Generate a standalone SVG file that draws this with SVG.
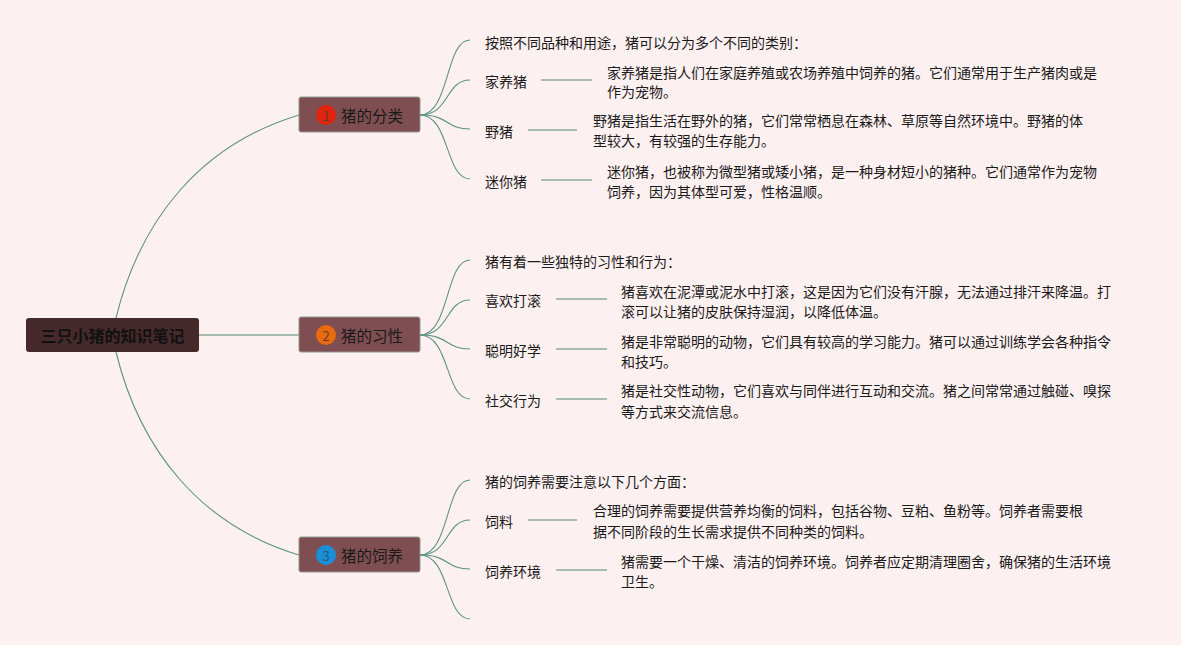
<svg xmlns="http://www.w3.org/2000/svg" width="1181" height="645" viewBox="0 0 1181 645">
<style>
  text { font-family: "Noto Sans CJK SC", "Liberation Sans", sans-serif; fill: #1a1a1a; dominant-baseline: central; }
  .t { font-size: 14px; }
  .root-t { font-size: 16px; font-weight: bold; fill: #111; }
  .br-t { font-size: 15.5px; }
  .num { font-size: 13px; fill: #6a3a30; text-anchor: middle; }
  .curve { fill: none; stroke: #5e9482; stroke-width: 1.1; }
  .link { fill: none; stroke: #a9bcb2; stroke-width: 2; }
  .br { fill: #7f4e52; stroke: #8d9a92; stroke-width: 1; }
</style>
<rect width="1181" height="645" fill="#fdf0f0"/>

<g id="connectors">
  <path class="curve" d="M116,318 C140,220 200,145 299,115"/>
  <path class="link" d="M199,335 L299,335" stroke="#9fb8aa"/>
  <path class="curve" d="M116,352 C140,450 200,525 299,555"/>
  <path class="curve" d="M420,115 C450,115 445,40 470,40"/>
  <path class="curve" d="M420,115 C450,115 445,80 470,80"/>
  <path class="curve" d="M420,115 C450,115 445,129 470,129"/>
  <path class="curve" d="M420,115 C450,115 445,179 470,179"/>
  <path class="curve" d="M420,335 C450,335 445,260 470,260"/>
  <path class="curve" d="M420,335 C450,335 445,300 470,300"/>
  <path class="curve" d="M420,335 C450,335 445,349 470,349"/>
  <path class="curve" d="M420,335 C450,335 445,399 470,399"/>
  <path class="curve" d="M420,555 C450,555 445,480 470,480"/>
  <path class="curve" d="M420,555 C450,555 445,520 470,520"/>
  <path class="curve" d="M420,555 C450,555 445,569 470,569"/>
  <path class="curve" d="M420,555 C450,555 445,619 470,619"/>
  <path class="link" d="M541,80 L592,80"/>
  <path class="link" d="M528,130 L577,130"/>
  <path class="link" d="M541,180 L592,180"/>
  <path class="link" d="M556,299 L607,299"/>
  <path class="link" d="M556,349 L607,349"/>
  <path class="link" d="M556,399 L607,399"/>
  <path class="link" d="M528,520 L577,520"/>
  <path class="link" d="M556,570 L607,570"/>
</g>

<g id="root">
  <rect x="26" y="318" width="173" height="34" rx="3" fill="#45292b"/>
  <text class="root-t" x="112.5" y="335" text-anchor="middle">三只小猪的知识笔记</text>
</g>

<g id="branch1">
  <rect class="br" x="299" y="97" width="121" height="35" rx="2"/>
  <circle cx="326" cy="115" r="10" fill="#e0240e"/>
  <text class="num" x="326" y="115">1</text>
  <text class="br-t" x="341" y="115">猪的分类</text>
</g>
<g id="branch2">
  <rect class="br" x="299" y="317" width="121" height="35" rx="2"/>
  <circle cx="326" cy="335" r="10" fill="#ea6a10"/>
  <text class="num" x="326" y="335">2</text>
  <text class="br-t" x="341" y="335">猪的习性</text>
</g>
<g id="branch3">
  <rect class="br" x="299" y="537" width="121" height="35" rx="2"/>
  <circle cx="326" cy="555" r="10" fill="#1b8fd6"/>
  <text class="num" x="326" y="555" style="fill:#245a7a">3</text>
  <text class="br-t" x="341" y="555">猪的饲养</text>
</g>

<g id="sec1">
  <text class="t" x="485" y="42">按照不同品种和用途，猪可以分为多个不同的类别：</text>
  <text class="t" x="485" y="81">家养猪</text>
  <text class="t" x="607" y="72">家养猪是指人们在家庭养殖或农场养殖中饲养的猪。它们通常用于生产猪肉或是</text>
  <text class="t" x="607" y="91">作为宠物。</text>
  <text class="t" x="485" y="131">野猪</text>
  <text class="t" x="593" y="120">野猪是指生活在野外的猪，它们常常栖息在森林、草原等自然环境中。野猪的体</text>
  <text class="t" x="593" y="140">型较大，有较强的生存能力。</text>
  <text class="t" x="485" y="181">迷你猪</text>
  <text class="t" x="607" y="171">迷你猪，也被称为微型猪或矮小猪，是一种身材短小的猪种。它们通常作为宠物</text>
  <text class="t" x="607" y="191">饲养，因为其体型可爱，性格温顺。</text>
</g>

<g id="sec2">
  <text class="t" x="485" y="261">猪有着一些独特的习性和行为：</text>
  <text class="t" x="485" y="300">喜欢打滚</text>
  <text class="t" x="621" y="291">猪喜欢在泥潭或泥水中打滚，这是因为它们没有汗腺，无法通过排汗来降温。打</text>
  <text class="t" x="621" y="311">滚可以让猪的皮肤保持湿润，以降低体温。</text>
  <text class="t" x="485" y="350">聪明好学</text>
  <text class="t" x="621" y="341">猪是非常聪明的动物，它们具有较高的学习能力。猪可以通过训练学会各种指令</text>
  <text class="t" x="621" y="361">和技巧。</text>
  <text class="t" x="485" y="400">社交行为</text>
  <text class="t" x="621" y="390">猪是社交性动物，它们喜欢与同伴进行互动和交流。猪之间常常通过触碰、嗅探</text>
  <text class="t" x="621" y="411">等方式来交流信息。</text>
</g>

<g id="sec3">
  <text class="t" x="485" y="481">猪的饲养需要注意以下几个方面：</text>
  <text class="t" x="485" y="521">饲料</text>
  <text class="t" x="593" y="510">合理的饲养需要提供营养均衡的饲料，包括谷物、豆粕、鱼粉等。饲养者需要根</text>
  <text class="t" x="593" y="531">据不同阶段的生长需求提供不同种类的饲料。</text>
  <text class="t" x="485" y="571">饲养环境</text>
  <text class="t" x="621" y="561">猪需要一个干燥、清洁的饲养环境。饲养者应定期清理圈舍，确保猪的生活环境</text>
  <text class="t" x="621" y="581">卫生。</text>
</g>
</svg>
